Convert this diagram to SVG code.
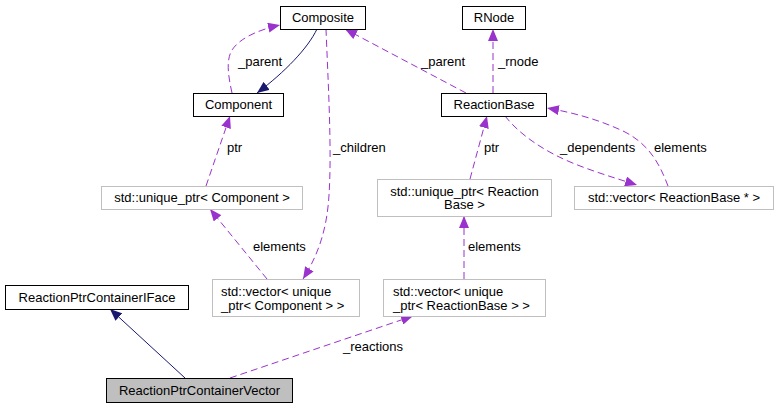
<svg xmlns="http://www.w3.org/2000/svg" width="778" height="409" viewBox="0 0 778 409">
<style>
text{font-family:"Liberation Sans",Arial,Helvetica,sans-serif;font-size:13px;fill:#000}
.c{text-anchor:middle}
.box{fill:#fff;stroke:#000;stroke-width:1}
.tpl{fill:#fff;stroke:#bfbfbf;stroke-width:1}
.cur{fill:#bfbfbf;stroke:#000;stroke-width:1}
.use{fill:none;stroke:#9a32cd;stroke-width:1;stroke-dasharray:7,4;marker-end:url(#ap)}
.inh{fill:none;stroke:#191970;stroke-width:1;marker-end:url(#an)}
</style>
<defs>
<marker id="ap" markerUnits="userSpaceOnUse" markerWidth="12" markerHeight="10" refX="12" refY="5" orient="auto">
<path d="M0,0 L12,5 L0,10 z" fill="#9a32cd"/>
</marker>
<marker id="an" markerUnits="userSpaceOnUse" markerWidth="12" markerHeight="10" refX="12" refY="5" orient="auto">
<path d="M0,0 L12,5 L0,10 z" fill="#191970"/>
</marker>
</defs>
<rect width="778" height="409" fill="#fff"/>
<g id="edges">
<path class="inh" d="M317,29 C308,48 285,72 257,93"/>
<path class="use" d="M232,93 C228,75 226,60 232,50 C240,38 258,30 280,25"/>
<text x="238" y="65.5">_parent</text>
<path class="use" d="M466,93 L345,29"/>
<text x="421" y="65.5">_parent</text>
<path class="use" d="M493,93 L493,29"/>
<text x="498" y="65.5">_rnode</text>
<path class="use" d="M326,29 C328,80 332,150 329,195 C327,230 318,255 303,279"/>
<text x="333" y="151.5">_children</text>
<path class="use" d="M206,186 L230,116"/>
<text x="227" y="152">ptr</text>
<path class="use" d="M267,279 L210,209"/>
<text x="253" y="251">elements</text>
<path class="use" d="M470,179 L487,116"/>
<text x="484" y="152">ptr</text>
<path class="use" d="M464,279 L464,216"/>
<text x="468" y="251">elements</text>
<path class="use" d="M505,116 C520,135 545,152 575,164 C595,172 615,178 637,185"/>
<text x="560" y="152">_dependents</text>
<path class="use" d="M668,186 C660,165 650,145 625,132 C600,120 575,113 547,108"/>
<text x="654" y="152">elements</text>
<path class="inh" d="M185,378 L110,309"/>
<path class="use" d="M230,378 L413,316"/>
<text x="343" y="351">_reactions</text>
</g>
<g id="node_Composite"><rect class="box" x="280.5" y="6.5" width="85" height="23"/><text class="c" x="323" y="22">Composite</text></g>
<g id="node_RNode"><rect class="box" x="462.5" y="6.5" width="63" height="23"/><text class="c" x="494" y="22">RNode</text></g>
<g id="node_Component"><rect class="box" x="193.5" y="93.5" width="90" height="23"/><text class="c" x="238.5" y="109">Component</text></g>
<g id="node_ReactionBase"><rect class="box" x="441.5" y="93.5" width="105" height="23"/><text class="c" x="494" y="109">ReactionBase</text></g>
<g id="node_unique_ptr_Component"><rect class="tpl" x="101.5" y="186.5" width="201" height="23"/><text class="c" x="202" y="202">std::unique_ptr&lt; Component &gt;</text></g>
<g id="node_unique_ptr_ReactionBase"><rect class="tpl" x="377.5" y="179.5" width="174" height="37"/><text class="c" x="464.5" y="195.5">std::unique_ptr&lt; Reaction</text><text class="c" x="464.5" y="209">Base &gt;</text></g>
<g id="node_vector_ReactionBase_ptr"><rect class="tpl" x="574.5" y="186.5" width="199" height="23"/><text class="c" x="674" y="202">std::vector&lt; ReactionBase * &gt;</text></g>
<g id="node_vector_unique_ptr_Component"><rect class="tpl" x="212.5" y="279.5" width="147" height="37"/><text x="221" y="295.5">std::vector&lt; unique</text><text x="221" y="309.5">_ptr&lt; Component &gt; &gt;</text></g>
<g id="node_vector_unique_ptr_ReactionBase"><rect class="tpl" x="383.5" y="279.5" width="162" height="37"/><text x="393" y="295.5">std::vector&lt; unique</text><text x="393" y="309.5">_ptr&lt; ReactionBase &gt; &gt;</text></g>
<g id="node_ReactionPtrContainerIFace"><rect class="box" x="5.5" y="285.5" width="183" height="24"/><text class="c" x="97" y="302">ReactionPtrContainerIFace</text></g>
<g id="node_ReactionPtrContainerVector"><rect class="cur" x="106.5" y="378.5" width="186" height="24"/><text class="c" x="199.5" y="395">ReactionPtrContainerVector</text></g>
</svg>
